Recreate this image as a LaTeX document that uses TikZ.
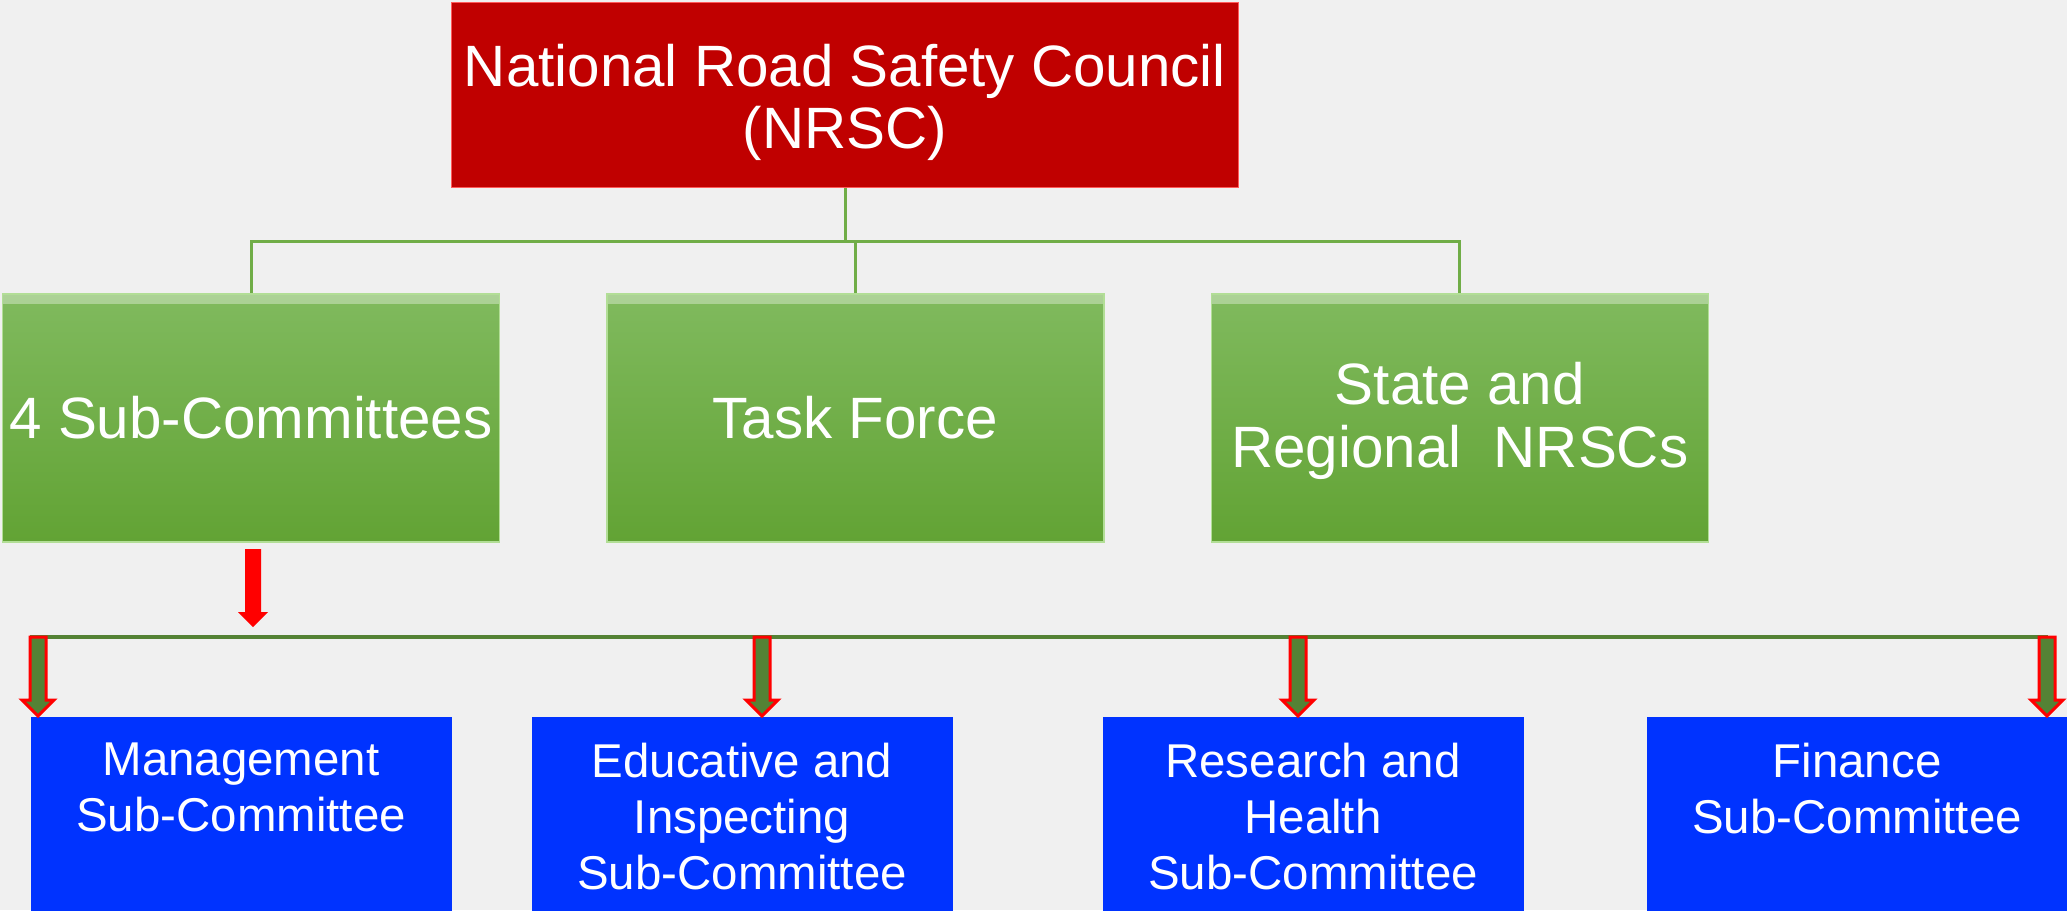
\documentclass[tikz,border=0pt]{standalone}
\usepackage{fontspec}
\setmainfont{Liberation Sans}
\usetikzlibrary{positioning}

\definecolor{bgray}{RGB}{240,240,240}
\definecolor{nrscred}{RGB}{192,0,0}
\definecolor{nrscedge}{RGB}{255,90,90}
\definecolor{greentop}{RGB}{128,186,94}
\definecolor{greenbot}{RGB}{98,163,52}
\definecolor{greenedge}{RGB}{178,222,150}
\definecolor{linkgreen}{RGB}{112,173,71}
\definecolor{busgreen}{RGB}{84,130,53}
\definecolor{subblue}{RGB}{0,51,255}

\newcommand{\toptext}[1]{\parbox[t][14.1mm][t]{41mm}{\centering #1}}

\begin{document}
\begin{tikzpicture}[x=0.1mm,y=-0.1mm,
  council/.style={draw=nrscedge, fill=nrscred, text=white, align=center,
    minimum width=78.7mm, minimum height=18.5mm, inner sep=0pt,
    font=\fontsize{16.6}{17.8}\selectfont},
  branch/.style={draw=greenedge, top color=greentop, bottom color=greenbot,
    text=white, align=center, minimum width=49.7mm, minimum height=24.8mm,
    inner sep=0pt, font=\fontsize{16.6}{17.9}\selectfont,
    path picture={\fill[white,opacity=0.35] (path picture bounding box.north west)
      rectangle ([yshift=-1mm]path picture bounding box.north east);}},
  subbox/.style={fill=subblue, text=white, minimum width=42.1mm,
    minimum height=19.4mm, inner sep=0pt,
    font=\fontsize{13.5}{15.9}\selectfont},
  link/.style={draw=linkgreen, line width=0.3mm},
  bus/.style={draw=busgreen, line width=0.4mm},
  subarrow/.style={fill=busgreen, draw=red, line width=0.3mm}]
\fill[bgray] (0,0) rectangle (2067,910);
\useasboundingbox (0,0) rectangle (2067,910);

\node[council] (nrsc) at (845,95) {\rule{0pt}{5.7mm}National Road Safety Council\\(NRSC)};

\node[branch] (sub) at (251,418) {4 Sub-Committees};
\node[branch, right=10.6mm of sub] (task) {Task Force};
\node[branch, right=10.6mm of task] (state) {\rule{0pt}{4.8mm}State and\\Regional~~NRSCs};

\coordinate (top bus) at (845,241);
\draw[link] (nrsc.south) -- (top bus);
\foreach \n in {sub,task,state}
  \draw[link] (top bus) -| (\n.north);

\node[subbox, anchor=north] (mgmt) at (241,716) {\toptext{Management\\Sub-Committee}};
\node[subbox, anchor=north] (edu) at (742,716) {\toptext{Educative and\\Inspecting\\Sub-Committee}};
\node[subbox, anchor=north] (res) at (1313,716) {\toptext{Research and\\Health\\Sub-Committee}};
\node[subbox, anchor=north] (fin) at (1857,716) {\toptext{Finance\\Sub-Committee}};

% arrow down from the sub-committees
\fill[red] (245,549) -- (261,549) -- (261,612) -- (268,612) -- (253,627)
  -- (238,612) -- (245,612) -- cycle;

\coordinate (low bus l) at (30,637);
\coordinate (low bus r) at (2048,637);
\draw[bus] (low bus l) -- (low bus r);

\foreach \x in {38,762,1298,2047}
  \filldraw[subarrow] (\x-8,637) -- ++(16,0) -- ++(0,63) -- ++(8,0) -- (\x,716)
    -- ++(-16,-16) -- ++(8,0) -- cycle;

\end{tikzpicture}
\end{document}
